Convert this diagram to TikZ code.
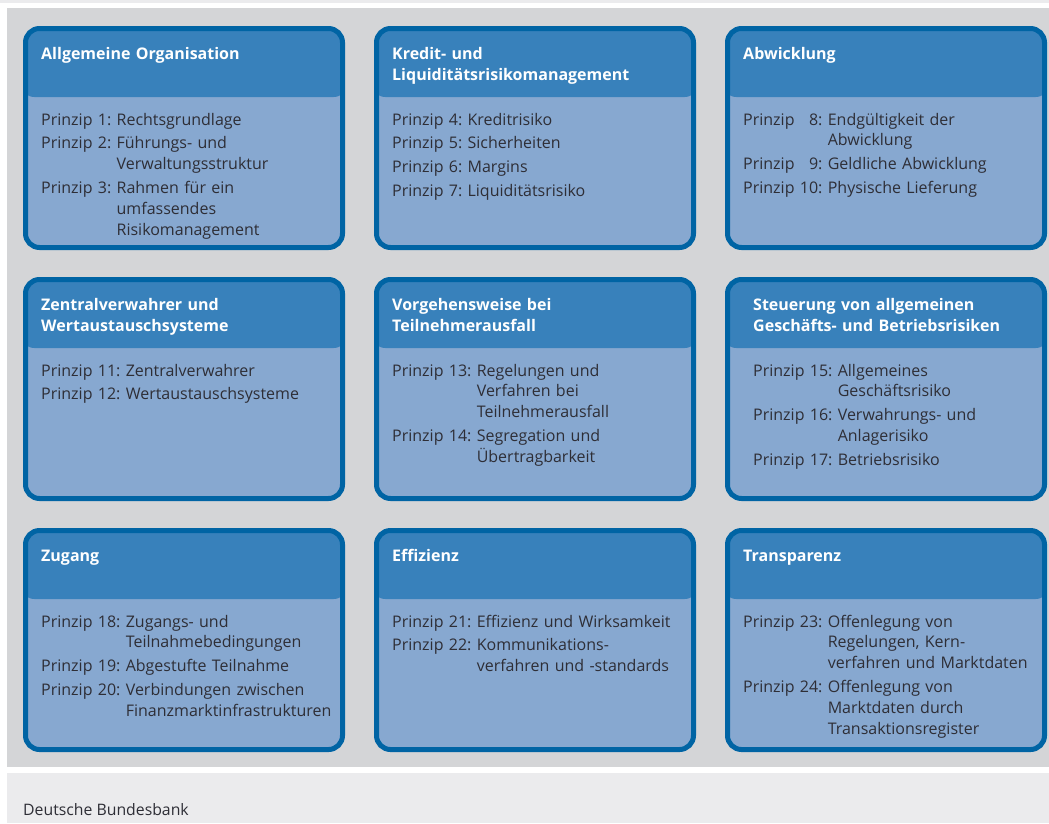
\documentclass[tikz,border=0pt]{standalone}
\usepackage{fontspec}
\setmainfont{Open Sans}
\usepackage{xcolor}
\usepackage{tikz}
\usetikzlibrary{positioning}
\definecolor{panelgray}{HTML}{D4D5D7}
\definecolor{stripgray}{HTML}{EBEBED}
\definecolor{bordblue}{HTML}{0064A4}
\definecolor{headblue}{HTML}{3881BB}
\definecolor{bodyblue}{HTML}{87A8D0}
\definecolor{textgray}{HTML}{2E2E36}
\newlength{\labw}
\newcommand{\labset}[1]{\settowidth{\labw}{Prinzip #1:\ }}
\newcommand{\prinzip}[2]{\hangindent=\labw\hangafter=1\noindent\makebox[\labw][l]{Prinzip #1:}{\let\\\newline #2}\par}
\tikzstyle{panelbox} = [rectangle, draw=bordblue, line width=5pt, fill=bodyblue,
    rounded corners=14pt, minimum width=317pt, minimum height=219pt, inner sep=0pt,
    path picture={\fill[headblue] ([xshift=-5pt,yshift=5pt]path picture bounding box.north west)
      rectangle ([xshift=5pt,yshift=-68.5pt]path picture bounding box.north east);}]
\tikzstyle{headtext} = [anchor=base west, inner sep=0pt, text width=300pt, align=left,
    text=white, font=\fontsize{16}{21}\selectfont\bfseries]
\tikzstyle{bodytext} = [anchor=base west, inner sep=0pt, text width=300pt, align=left,
    text=textgray, font=\fontsize{16}{20.8}\selectfont]
\tikzstyle{sourcetext} = [anchor=base west, inner sep=0pt, text=textgray,
    font=\fontsize{15.8}{20}\selectfont]

\begin{document}
\begin{tikzpicture}
    % Background
    \useasboundingbox (0,0) rectangle (1049pt,-823pt);
    \fill[stripgray] (0,0) rectangle (1049pt,-3pt);
    \fill[panelgray] (7pt,-8pt) rectangle (1049pt,-767pt);
    \fill[stripgray] (7pt,-773pt) rectangle (1049pt,-823pt);

    % Boxes
    \node [panelbox] (org) at (184pt,-138pt) {};
    \node [panelbox, right=29pt of org] (credit) {};
    \node [panelbox, right=29pt of credit] (settle) {};
    \node [panelbox, below=27pt of org] (csd) {};
    \node [panelbox, right=29pt of csd] (default) {};
    \node [panelbox, right=29pt of default] (risk) {};
    \node [panelbox, below=27pt of csd] (access) {};
    \node [panelbox, right=29pt of access] (effic) {};
    \node [panelbox, right=29pt of effic] (transp) {};

    % Titles
    \node [headtext] (orgT) at ([xshift=18pt,yshift=-33pt]org.north west) {Allgemeine Organisation};
    \node [headtext] (creditT) at ([xshift=18pt,yshift=-33pt]credit.north west) {Kredit- und\\Liquiditätsrisikomanagement};
    \node [headtext] (settleT) at ([xshift=18pt,yshift=-33pt]settle.north west) {Abwicklung};
    \node [headtext] (csdT) at ([xshift=18pt,yshift=-33pt]csd.north west) {Zentralverwahrer und\\Wertaustauschsysteme};
    \node [headtext] (defaultT) at ([xshift=18pt,yshift=-33pt]default.north west) {Vorgehensweise bei\\Teilnehmerausfall};
    \node [headtext] (riskT) at ([xshift=28pt,yshift=-33pt]risk.north west) {Steuerung von allgemeinen\\Geschäfts- und Betriebsrisiken};
    \node [headtext] (accessT) at ([xshift=18pt,yshift=-33pt]access.north west) {Zugang};
    \node [headtext] (efficT) at ([xshift=18pt,yshift=-33pt]effic.north west) {Effizienz};
    \node [headtext] (transpT) at ([xshift=18pt,yshift=-33pt]transp.north west) {Transparenz};

    % Principles
    \node [bodytext] (orgB) at ([xshift=18pt,yshift=-99pt]org.north west) {\setlength{\parskip}{3pt}\labset{1}%
      \prinzip{1}{Rechtsgrundlage}%
      \prinzip{2}{Führungs- und\\Verwaltungsstruktur}%
      \prinzip{3}{Rahmen für ein\\umfassendes\\Risikomanagement}};
    \node [bodytext] (creditB) at ([xshift=18pt,yshift=-99pt]credit.north west) {\setlength{\parskip}{3pt}\labset{4}%
      \prinzip{4}{Kreditrisiko}%
      \prinzip{5}{Sicherheiten}%
      \prinzip{6}{Margins}%
      \prinzip{7}{Liquiditätsrisiko}};
    \node [bodytext] (settleB) at ([xshift=18pt,yshift=-99pt]settle.north west) {\setlength{\parskip}{3pt}\labset{10}%
      \prinzip{\hphantom{1}8}{Endgültigkeit der\\Abwicklung}%
      \prinzip{\hphantom{1}9}{Geldliche Abwicklung}%
      \prinzip{10}{Physische Lieferung}};
    \node [bodytext] (csdB) at ([xshift=18pt,yshift=-99pt]csd.north west) {\setlength{\parskip}{3pt}\labset{11}%
      \prinzip{11}{Zentralverwahrer}%
      \prinzip{12}{Wertaustauschsysteme}};
    \node [bodytext] (defaultB) at ([xshift=18pt,yshift=-99pt]default.north west) {\setlength{\parskip}{3pt}\labset{13}%
      \prinzip{13}{Regelungen und\\Verfahren bei\\Teilnehmerausfall}%
      \prinzip{14}{Segregation und\\Übertragbarkeit}};
    \node [bodytext] (riskB) at ([xshift=28pt,yshift=-99pt]risk.north west) {\setlength{\parskip}{3pt}\labset{15}%
      \prinzip{15}{Allgemeines\\Geschäftsrisiko}%
      \prinzip{16}{Verwahrungs- und\\Anlagerisiko}%
      \prinzip{17}{Betriebsrisiko}};
    \node [bodytext] (accessB) at ([xshift=18pt,yshift=-99pt]access.north west) {\setlength{\parskip}{3pt}\labset{18}%
      \prinzip{18}{Zugangs- und\\Teilnahmebedingungen}%
      \prinzip{19}{Abgestufte Teilnahme}%
      \prinzip{20}{Verbindungen zwischen\\Finanzmarktinfrastrukturen}};
    \node [bodytext] (efficB) at ([xshift=18pt,yshift=-99pt]effic.north west) {\setlength{\parskip}{3pt}\labset{21}%
      \prinzip{21}{Effizienz und Wirksamkeit}%
      \prinzip{22}{Kommunikations-\\verfahren und -standards}};
    \node [bodytext] (transpB) at ([xshift=18pt,yshift=-99pt]transp.north west) {\setlength{\parskip}{3pt}\labset{23}%
      \prinzip{23}{Offenlegung von\\Regelungen, Kern-\\verfahren und Marktdaten}%
      \prinzip{24}{Offenlegung von\\Marktdaten durch\\Transaktionsregister}};

    % Source
    \node [sourcetext] (src) at (23pt,-815pt) {Deutsche Bundesbank};
\end{tikzpicture}
\end{document}
